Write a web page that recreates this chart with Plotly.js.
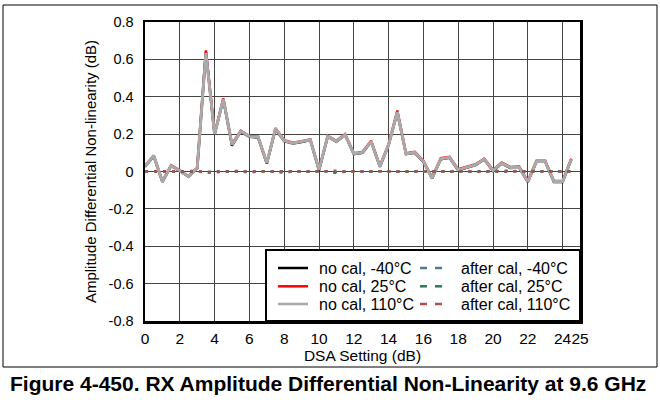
<!DOCTYPE html>
<html>
<head>
<meta charset="utf-8">
<script src="https://cdn.plot.ly/plotly-3.0.1.min.js"></script>
<style>html,body{margin:0;padding:0;background:#fff;}#chart{width:660px;height:410px;}</style>
</head>
<body>
<div id="chart"></div>
<script>
const dsaSetting = [0,0.5,1,1.5,2,2.5,3,3.5,4,4.5,5,5.5,6,6.5,7,7.5,8,8.5,9,9.5,10,10.5,11,11.5,12,12.5,13,13.5,14,14.5,15,15.5,16,16.5,17,17.5,18,18.5,19,19.5,20,20.5,21,21.5,22,22.5,23,23.5,24,24.5];

const noCalM40 = [0.025,0.082,-0.055,0.030,0.003,-0.028,0.016,0.640,0.198,0.386,0.138,0.213,0.186,0.182,0.042,0.226,0.163,0.150,0.158,0.168,0.006,0.186,0.159,0.195,0.093,0.100,0.159,0.025,0.141,0.316,0.093,0.100,0.052,-0.037,0.066,0.073,0.007,0.019,0.034,0.064,0.003,0.043,0.019,0.021,-0.056,0.052,0.052,-0.056,-0.056,0.064];
const noCal25 = [0.029,0.086,-0.052,0.033,0.006,-0.025,0.020,0.648,0.202,0.392,0.146,0.218,0.190,0.186,0.047,0.232,0.168,0.154,0.162,0.172,0.011,0.191,0.164,0.200,0.098,0.105,0.164,0.030,0.146,0.326,0.098,0.105,0.057,-0.032,0.071,0.078,0.012,0.024,0.039,0.069,0.008,0.048,0.024,0.026,-0.051,0.057,0.057,-0.051,-0.051,0.069];
const noCal110 = [0.027,0.084,-0.054,0.031,0.004,-0.027,0.018,0.635,0.200,0.388,0.143,0.215,0.188,0.184,0.045,0.229,0.165,0.152,0.160,0.170,0.009,0.188,0.161,0.197,0.095,0.102,0.161,0.027,0.143,0.318,0.095,0.102,0.054,-0.036,0.068,0.075,0.009,0.021,0.036,0.066,0.005,0.045,0.021,0.023,-0.054,0.054,0.054,-0.054,-0.054,0.066];

const afterCalM40 = [0.002,0.003,0.000,0.001,-0.002,0.001,0.000,-0.004,-0.006,0.000,-0.003,0.002,-0.007,0.001,0.000,-0.002,-0.008,0.001,0.000,-0.002,0.002,0.000,-0.008,0.001,0.000,0.001,0.003,0.000,0.001,-0.002,0.001,0.000,0.001,0.002,0.000,-0.001,0.001,0.000,-0.002,0.001,0.000,-0.002,0.001,0.002,0.000,0.001,0.000,0.002,0.001,0.002];
const afterCal25 = [0.001,0.000,0.001,0.000,0.001,-0.001,0.002,-0.002,0.000,0.001,0.000,0.003,0.000,0.001,0.002,0.000,0.001,0.002,0.000,0.001,0.000,0.002,-0.004,0.000,0.001,0.000,0.002,0.001,0.000,0.001,0.002,0.000,0.001,0.000,0.001,0.000,0.002,0.000,0.001,0.000,0.002,0.001,0.004,0.000,0.001,0.000,0.002,0.001,0.000,0.001];
const afterCal110 = [0.000,0.001,-0.001,0.002,0.000,0.001,0.004,-0.008,0.000,-0.001,0.000,0.004,0.001,0.000,0.002,0.001,0.000,0.001,0.002,0.000,0.000,0.001,0.004,0.000,0.001,0.002,0.000,0.001,0.002,0.000,0.001,0.000,0.002,0.001,0.000,0.001,0.002,0.000,-0.001,0.000,0.001,0.002,0.000,0.001,-0.001,0.000,0.001,0.000,-0.002,0.000];

const xTickVals = [0,2,4,6,8,10,12,14,16,18,20,22,24,25];
const yTickVals = [-0.8,-0.6,-0.4,-0.2,0,0.2,0.4,0.6,0.8];
const yTickText = ['-0.8','-0.6','-0.4','-0.2','0','0.2','0.4','0.6','0.8'];

const seriesNames = ['no cal, -40°C','no cal, 25°C','no cal, 110°C','after cal, -40°C','after cal, 25°C','after cal, 110°C'];
const seriesColors = ['#000000','#ff0000','#aaaaaa','#4a7f93','#2e7a52','#b0504a'];
const seriesValues = [noCalM40, noCal25, noCal110, afterCalM40, afterCal25, afterCal110];

// plot area in pixels
const PL = 145, PR = 580, PT = 22, PB = 321;
const px = v => (v - PL) / (PR - PL);
const py = v => (PB - v) / (PB - PT);

const traces = seriesValues.map((vals, i) => ({
  x: dsaSetting, y: vals, name: seriesNames[i], mode: 'lines', showlegend: false,
  line: i < 3 ? {color: seriesColors[i], width: i === 2 ? 3 : 2.5}
              : {color: seriesColors[i], width: 2.5, dash: '3px,6px'}
}));

const shapes = [
  // outer frame
  {type: 'rect', xref: 'paper', yref: 'paper', x0: px(3), x1: px(657), y0: py(367), y1: py(5),
   line: {color: '#000', width: 1}, fillcolor: 'rgba(0,0,0,0)', layer: 'below'},
  // legend box
  {type: 'rect', xref: 'paper', yref: 'paper', x0: px(266), x1: px(580), y0: py(321), y1: py(250),
   line: {color: '#000', width: 2}, fillcolor: '#ffffff', layer: 'above'}
];
const annotations = [
  {xref: 'paper', yref: 'paper', x: px(8), y: py(383), xanchor: 'left', yanchor: 'middle', showarrow: false,
   text: '<b>Figure 4-450. RX Amplitude Differential Non-Linearity at 9.6 GHz</b>', font: {size: 21, color: '#000'}}
];
const rowY = [268, 286.3, 304];
for (let i = 0; i < 6; i++) {
  const col = i < 3 ? 0 : 1;
  const row = i % 3;
  const y = py(rowY[row]);
  if (col === 0) {
    shapes.push({type: 'line', xref: 'paper', yref: 'paper', x0: px(278), x1: px(308), y0: y, y1: y,
      line: {color: seriesColors[i], width: 2.5}, layer: 'above'});
    annotations.push({xref: 'paper', yref: 'paper', x: px(317), y: y, xanchor: 'left', yanchor: 'middle',
      showarrow: false, text: seriesNames[i], font: {size: 16, color: '#000'}});
  } else {
    shapes.push({type: 'line', xref: 'paper', yref: 'paper', x0: px(420), x1: px(427), y0: y, y1: y,
      line: {color: seriesColors[i], width: 2.5}, layer: 'above'});
    shapes.push({type: 'line', xref: 'paper', yref: 'paper', x0: px(435), x1: px(442), y0: y, y1: y,
      line: {color: seriesColors[i], width: 2.5}, layer: 'above'});
    annotations.push({xref: 'paper', yref: 'paper', x: px(459), y: y, xanchor: 'left', yanchor: 'middle',
      showarrow: false, text: seriesNames[i], font: {size: 16, color: '#000'}});
  }
}

const layout = {
  width: 660, height: 410,
  margin: {l: PL, r: 660 - PR, t: PT, b: 410 - PB},
  paper_bgcolor: '#ffffff', plot_bgcolor: '#ffffff',
  font: {family: 'Liberation Sans, Arial, sans-serif', size: 14.5, color: '#000'},
  showlegend: false,
  xaxis: {
    range: [0, 25], tickvals: xTickVals, ticktext: xTickVals.map(String),
    showgrid: true, gridcolor: '#444', gridwidth: 1,
    showline: true, linecolor: '#000', linewidth: 2.5, mirror: true,
    ticks: '', zeroline: false, tickfont: {size: 15.5}, tickangle: 0, ticklabelstandoff: 2,
    title: {text: 'DSA Setting (dB)', font: {size: 15.5}, standoff: 0}
  },
  yaxis: {
    range: [-0.8, 0.8], tickvals: yTickVals, ticktext: yTickText,
    showgrid: true, gridcolor: '#444', gridwidth: 1,
    showline: true, linecolor: '#000', linewidth: 2.5, mirror: true,
    ticks: '', zeroline: false, tickfont: {size: 14.5}, ticklabelstandoff: 6,
    title: {text: 'Amplitude Differential Non-linearity (dB)', font: {size: 15}, standoff: 9}
  },
  shapes: shapes,
  annotations: annotations
};

Plotly.newPlot('chart', traces, layout, {displayModeBar: false, staticPlot: true});
</script>
</body>
</html>
